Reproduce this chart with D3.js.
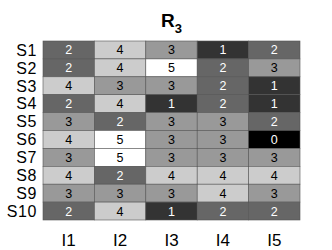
<!DOCTYPE html>
<html>
<head>
<script src="https://d3js.org/d3.v7.min.js"></script>
<style>
  body { margin: 0; background: #fff; }
  text { font-family: "Liberation Sans", Arial, sans-serif; }
</style>
</head>
<body>
<div id="chart"></div>
<script>

var rows = ["S1", "S2", "S3", "S4", "S5", "S6", "S7", "S8", "S9", "S10"];
var cols = ["I1", "I2", "I3", "I4", "I5"];
var values = [
  [2, 4, 3, 1, 2],
  [2, 4, 5, 2, 3],
  [4, 3, 3, 2, 1],
  [2, 4, 1, 2, 1],
  [3, 2, 3, 3, 2],
  [4, 5, 3, 3, 0],
  [3, 5, 3, 3, 3],
  [4, 2, 4, 4, 4],
  [3, 3, 3, 4, 3],
  [2, 4, 1, 2, 2]
];

var width = 332, height = 250,
    margin = {top: 41, right: 32, bottom: 30, left: 43};

var svg = d3.select("#chart").append("svg")
  .attr("width", width)
  .attr("height", height);

var x = d3.scaleBand().domain(cols).range([margin.left, width - margin.right]);
var y = d3.scaleBand().domain(rows).range([margin.top, height - margin.bottom]);
var color = d3.scaleLinear().domain([0, 5]).range(["#000000", "#ffffff"]);

var cells = [];
values.forEach(function(r, i) {
  r.forEach(function(v, j) {
    cells.push({row: rows[i], col: cols[j], v: v});
  });
});

svg.selectAll("rect.cell")
  .data(cells)
  .enter().append("rect")
  .attr("class", "cell")
  .attr("x", function(d) { return x(d.col); })
  .attr("y", function(d) { return y(d.row); })
  .attr("width", x.bandwidth())
  .attr("height", y.bandwidth())
  .style("fill", function(d) { return color(d.v); })
  .style("stroke", "#555")
  .style("stroke-width", 0.6);

// cell values, white on the dark cells
svg.selectAll("text.val")
  .data(cells)
  .enter().append("text")
  .attr("class", "val")
  .attr("x", function(d) { return x(d.col) + x.bandwidth() / 2; })
  .attr("y", function(d) { return y(d.row) + y.bandwidth() / 2; })
  .attr("dy", "0.36em")
  .attr("text-anchor", "middle")
  .style("font-size", "12.5px")
  .style("fill", function(d) { return d.v <= 2 ? "#fff" : "#000"; })
  .text(function(d) { return d.v; });

// row labels
svg.selectAll("text.row")
  .data(rows)
  .enter().append("text")
  .attr("class", "row")
  .attr("x", margin.left - 6)
  .attr("y", function(d) { return y(d) + y.bandwidth() / 2; })
  .attr("dy", "0.36em")
  .attr("text-anchor", "end")
  .style("font-size", "16px")
  .style("letter-spacing", "0.6px")
  .text(function(d) { return d; });

// column labels
svg.selectAll("text.col")
  .data(cols)
  .enter().append("text")
  .attr("class", "col")
  .attr("x", function(d) { return x(d) + x.bandwidth() / 2; })
  .attr("y", 246)
  .attr("text-anchor", "middle")
  .style("font-size", "17px")
  .text(function(d) { return d; });

// title
var title = svg.append("text")
  .attr("x", (margin.left + width - margin.right) / 2)
  .attr("y", 27)
  .attr("text-anchor", "middle")
  .style("font-size", "19px")
  .style("font-weight", "bold");
title.append("tspan").text("R");
title.append("tspan").attr("dy", 6).style("font-size", "13px").text("3");

</script>
</body>
</html>
